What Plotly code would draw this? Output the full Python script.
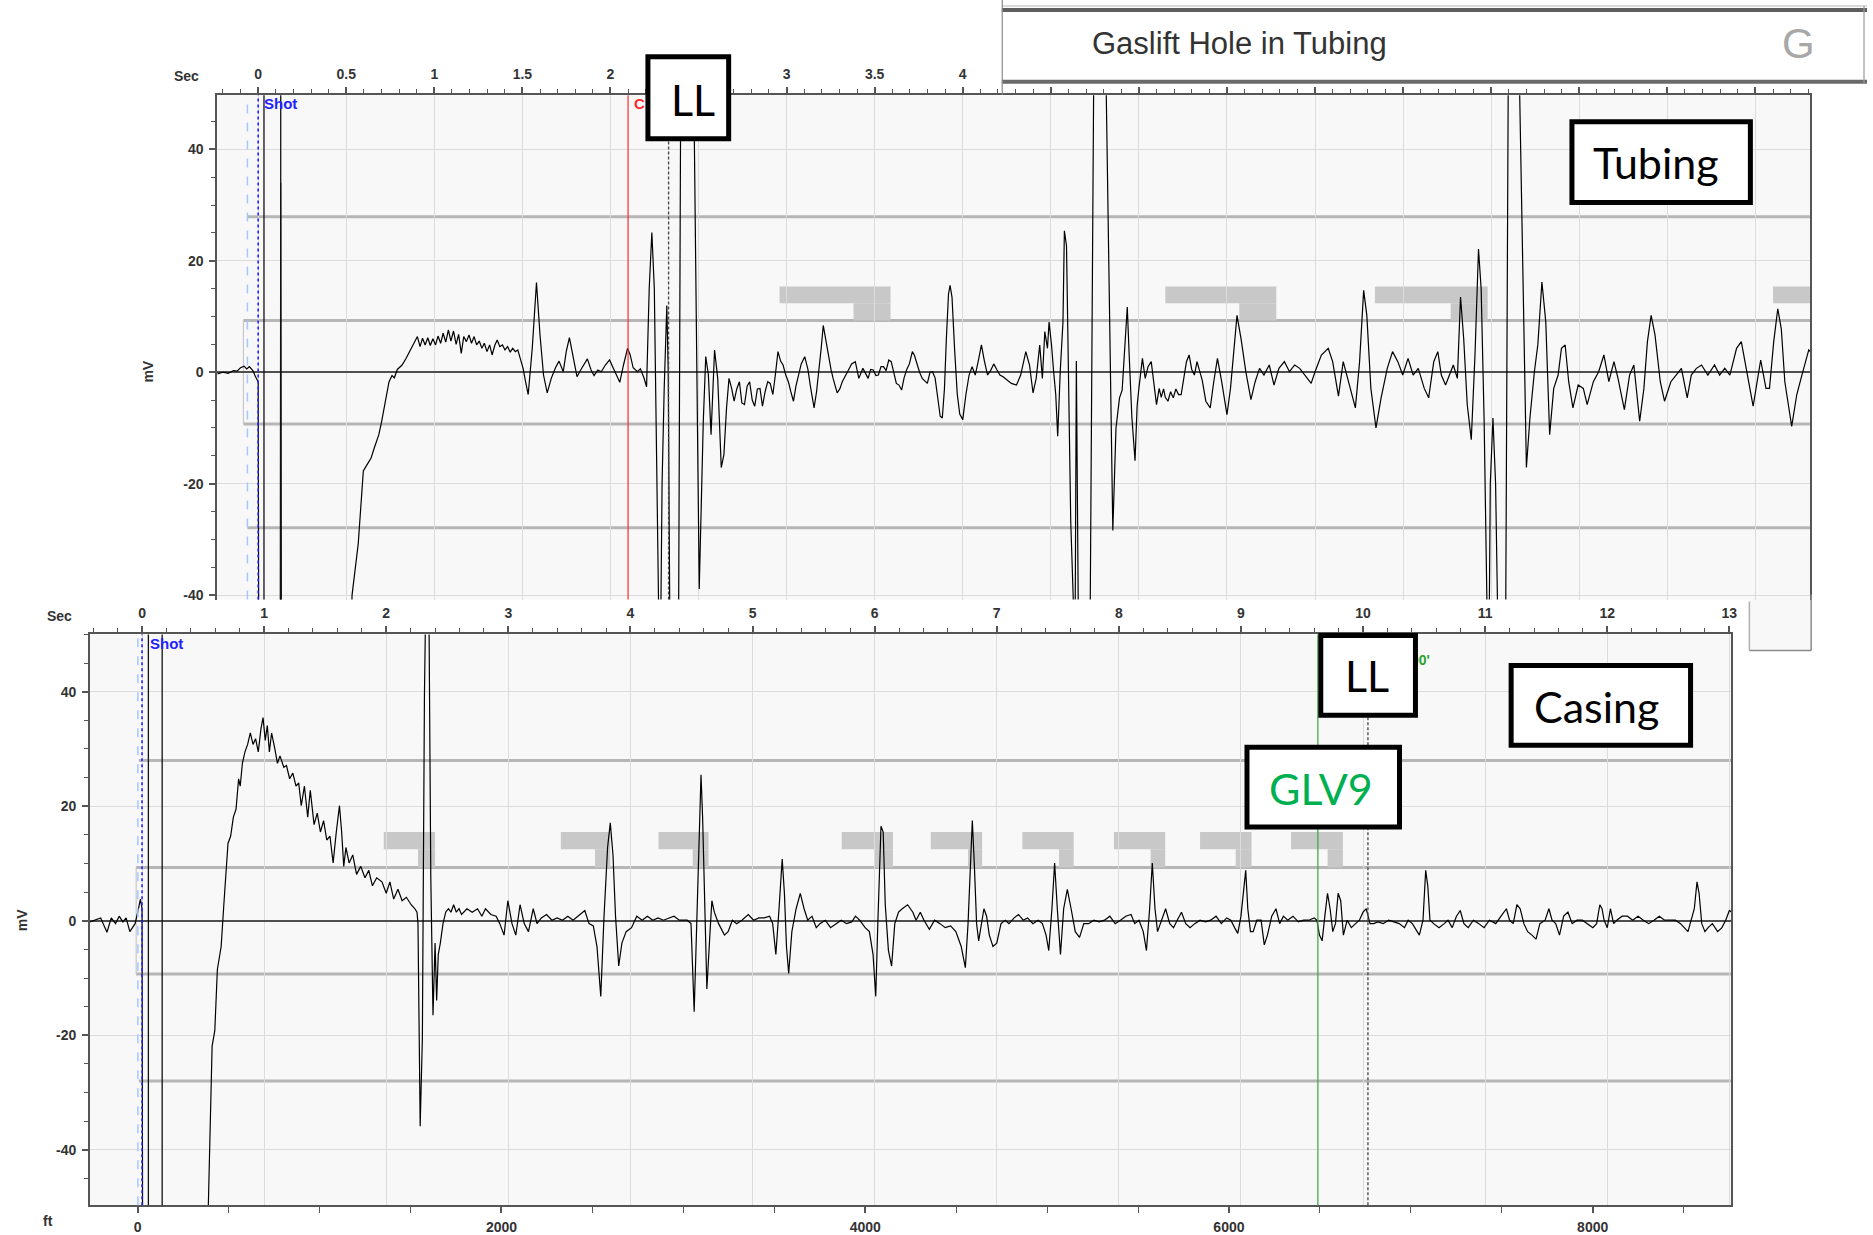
import plotly.graph_objects as go

W, H = 1873, 1235


def px(x):
    return x / W


def py(y):
    return 1 - y / H


# ---------------- upper panel: tubing shot (time in s, signal in mV) ----------------
tubing_trace = [
    (-0.232, -0.3), (-0.2, 0.0), (-0.17, -0.2), (-0.14, 0.3), (-0.12, 0.2), (-0.10, 0.8),
    (-0.08, 1.1), (-0.065, 0.6), (-0.05, 1.0), (-0.03, 0.3), (-0.015, -0.8), (0.0, -1.7),
    (0.004, -60), (0.125, -60), (0.128, 34), (0.130, 10), (0.132, -60),
    (0.52, -60), (0.533, -40), (0.568, -30.8), (0.585, -22), (0.597, -17.7), (0.62, -16.5),
    (0.641, -15.4), (0.66, -13.5), (0.685, -11.2), (0.70, -9), (0.714, -6.4), (0.73, -3.5),
    (0.743, -1.7), (0.76, -0.6), (0.773, -1.0), (0.79, 0.5), (0.817, 1.3), (0.84, 2.5),
    (0.86, 3.7), (0.875, 4.5), (0.89, 5.5),
    (0.904, 6.4), (0.919, 4.6), (0.933, 6.1), (0.948, 4.9), (0.963, 6.2), (0.977, 4.8),
    (0.992, 6.0), (1.007, 4.9), (1.021, 6.5), (1.036, 5.2), (1.05, 7.0), (1.065, 5.4),
    (1.08, 7.6), (1.094, 5.6), (1.109, 7.4), (1.124, 5.0), (1.138, 6.8), (1.153, 3.4),
    (1.167, 6.4), (1.182, 5.5), (1.197, 6.7), (1.211, 5.2), (1.226, 6.4), (1.24, 4.9),
    (1.255, 5.6), (1.27, 4.3), (1.284, 5.2), (1.299, 3.7), (1.314, 4.9), (1.328, 3.1),
    (1.343, 4.8), (1.357, 5.8), (1.372, 4.6), (1.387, 4.9), (1.401, 4.0), (1.416, 4.6),
    (1.431, 3.6), (1.445, 4.3), (1.46, 3.7), (1.474, 4.0), (1.489, 2.2), (1.504, 0.7),
    (1.518, -1.7), (1.533, -4.0), (1.556, 4.3), (1.58, 16.1), (1.60, 6.7), (1.62, -0.5),
    (1.641, -3.7), (1.664, -1.1), (1.688, 0.8), (1.708, 2.0), (1.732, 0.1), (1.749, 3.7),
    (1.767, 6.2), (1.787, 3.1), (1.81, -0.8), (1.831, 0.4), (1.849, 1.3), (1.869, 2.4),
    (1.89, 0.4), (1.907, -0.6), (1.928, 0.4), (1.948, 0.1), (1.971, 1.3), (1.995, 2.2),
    (2.015, 0.8), (2.036, -0.8), (2.053, -1.8), (2.074, 1.3), (2.097, 4.3), (2.112, 3.1),
    (2.129, 0.8), (2.153, 0.1), (2.17, 0.6), (2.19, -1.0), (2.205, -2.6), (2.22, 15.0),
    (2.235, 25.1), (2.249, 15.0), (2.264, -18.9), (2.281, -60), (2.293, -20), (2.305, -3),
    (2.32, 12), (2.328, 0), (2.34, -60), (2.385, -60), (2.40, 60), (2.47, 60),
    (2.504, -38.9), (2.518, -20), (2.527, -8.8), (2.541, 2.8), (2.556, -0.5), (2.571, -11.2),
    (2.591, 4.0), (2.609, -1.1), (2.629, -17.1), (2.644, -14.8), (2.659, -6.4), (2.673, -1.1),
    (2.688, -2.9), (2.702, -5.2), (2.717, -3.0), (2.732, -1.7), (2.746, -5.5), (2.761, -5.8),
    (2.776, -2.5), (2.79, -1.7), (2.805, -5.0), (2.819, -6.1), (2.834, -3.0), (2.849, -2.9),
    (2.863, -6.1), (2.878, -3.5), (2.893, -1.7), (2.907, -2.0), (2.922, -4.0), (2.936, -0.5),
    (2.951, 3.7), (2.966, 2.0), (2.98, 1.3), (2.995, -0.5), (3.01, -1.7), (3.024, -3.5),
    (3.039, -5.2), (3.053, -2.5), (3.068, -0.5), (3.083, 1.5), (3.103, 2.8), (3.121, 0.5),
    (3.135, -2.5), (3.156, -6.4), (3.17, -3.5), (3.185, 0.7), (3.197, 4.5), (3.208, 8.4),
    (3.223, 5.5), (3.238, 3.1), (3.252, 0.5), (3.264, -1.1), (3.287, -3.7), (3.302, -3.0),
    (3.316, -1.7), (3.346, 0.1), (3.369, 1.5), (3.39, 1.9), (3.41, -1.1), (3.433, 0.7),
    (3.451, -0.5), (3.463, -1.1), (3.477, 0.5), (3.492, 0.4), (3.507, -0.6), (3.521, -0.5),
    (3.536, 1.0), (3.55, 1.0), (3.565, 0.3), (3.58, 2.2), (3.594, 1.9), (3.609, 0.0),
    (3.623, -2.0), (3.638, -2.3), (3.653, -3.2), (3.667, -1.0), (3.682, 0.5), (3.697, 1.5),
    (3.714, 3.7), (3.726, 3.0), (3.741, 1.3), (3.755, 0.0), (3.77, -1.1), (3.784, -1.5),
    (3.799, -2.0), (3.814, 0.0), (3.828, 0.1), (3.843, -1.0), (3.858, -4.5), (3.872, -7.9),
    (3.884, -8.2), (3.896, -3.0), (3.907, 6.0), (3.919, 14.0), (3.928, 15.6), (3.939, 13.5),
    (3.954, 4.0), (3.969, -4.0), (3.983, -7.5), (4.0, -8.5), (4.018, -4.0), (4.036, -0.5),
    (4.053, 1.0), (4.071, -0.5), (4.088, 2.0), (4.106, 4.9), (4.123, 2.0), (4.141, -0.5),
    (4.158, 0.3), (4.176, 1.5), (4.193, 0.5), (4.211, -0.5), (4.229, -0.8), (4.246, -1.2),
    (4.276, -2.0), (4.305, -2.3), (4.329, -0.5), (4.358, 3.7), (4.379, 1.3), (4.399, -3.7),
    (4.417, -1.1), (4.437, 4.9), (4.452, -1.1), (4.466, 7.3), (4.481, 4.3), (4.49, 9.0),
    (4.504, 4.9), (4.516, 0.1), (4.528, -4.0), (4.539, -11.5), (4.554, 0.5), (4.569, 9.0),
    (4.577, 25.4), (4.589, 22.7), (4.601, -2.9), (4.613, -26.7), (4.627, -40.3), (4.636, -60),
    (4.645, 2.0), (4.66, -60), (4.72, -60), (4.745, 60), (4.81, 60), (4.852, -28.4),
    (4.87, -10), (4.89, -4.6), (4.905, -3.2), (4.92, 5), (4.934, 11.7), (4.945, 3),
    (4.96, -8), (4.978, -15.9), (4.99, -6), (5.0, -2.9), (5.02, 2.5), (5.036, -1.1),
    (5.052, 1.0), (5.07, 1.9), (5.085, -1.5), (5.10, -5.8), (5.115, -2.9), (5.127, -4.5),
    (5.14, -3.0), (5.15, -4.5), (5.165, -5.2), (5.18, -3.5), (5.195, -4.6), (5.21, -3.0),
    (5.225, -4.0), (5.24, -4.0), (5.27, 1.9), (5.285, 3.1), (5.3, 0.5), (5.315, -0.5),
    (5.33, 1.9), (5.345, 0.0), (5.36, -1.5), (5.38, -5.2), (5.405, -6.4), (5.425, -1.7),
    (5.446, 2.5), (5.47, -1.7), (5.50, -7.6), (5.52, -2.9), (5.54, 4.3), (5.557, 10.2),
    (5.58, 6.0), (5.607, 0.1), (5.636, -4.9), (5.66, -1.7), (5.685, 0.7), (5.71, -0.5),
    (5.74, 1.3), (5.767, -2.3), (5.795, 0.7), (5.826, 1.9), (5.855, 0.1), (5.884, 1.3),
    (5.913, 0.7), (5.943, -0.5), (5.978, -2.0), (6.0, 0.1), (6.036, 3.1), (6.075, 4.3),
    (6.10, 1.9), (6.133, -4.3), (6.16, 1.9), (6.2, -2.9), (6.229, -6.4), (6.253, 1.9),
    (6.276, 14.7), (6.294, 10.2), (6.317, -2.9), (6.346, -10.0), (6.375, -4.6), (6.41, 0.7),
    (6.44, 3.7), (6.47, 1.9), (6.498, -0.5), (6.528, 2.5), (6.557, -0.5), (6.586, 0.7),
    (6.62, -2.9), (6.645, -4.6), (6.674, 1.9), (6.697, 3.7), (6.717, -0.5), (6.741, -2.3),
    (6.762, -0.5), (6.785, 1.3), (6.808, -1.1), (6.826, 13.5), (6.844, 6.0), (6.864, -5.8),
    (6.887, -12.1), (6.908, 3.1), (6.928, 22.1), (6.943, 15.0), (6.96, -8.8), (6.975, -38.6),
    (6.985, -60), (6.995, -20), (7.01, -8.2), (7.025, -20), (7.045, -60), (7.08, -60),
    (7.098, 60), (7.156, 60), (7.20, -17.1), (7.22, -8.2), (7.245, 0.0), (7.265, 5.0),
    (7.288, 16.2), (7.31, 9.0), (7.332, -11.2), (7.355, -2.9), (7.38, -0.5), (7.399, 4.3),
    (7.42, 4.9), (7.44, -1.7), (7.464, -6.4), (7.494, -2.3), (7.523, -2.9), (7.545, -5.8),
    (7.58, -1.7), (7.61, 0.1), (7.64, 3.1), (7.668, -1.7), (7.697, 1.9), (7.72, -1.1),
    (7.756, -6.7), (7.786, -0.5), (7.81, 1.3), (7.843, -8.8), (7.867, -2.9), (7.887, 5.5),
    (7.908, 10.2), (7.93, 6.7), (7.96, -1.7), (7.984, -5.2), (8.02, -1.7), (8.05, -0.5),
    (8.08, 0.7), (8.113, -4.6), (8.136, -0.5), (8.165, 0.7), (8.194, 1.3), (8.23, -0.5),
    (8.268, 1.3), (8.297, -0.5), (8.326, 0.7), (8.355, -0.5), (8.393, 4.3), (8.42, 5.5),
    (8.45, 0.1), (8.487, -6.1), (8.51, -1.7), (8.53, 2.2), (8.56, -2.9), (8.58, -2.9),
    (8.604, 5.5), (8.627, 11.4), (8.647, 7.8), (8.667, -1.7), (8.706, -9.7), (8.735, -4.0),
    (8.764, -0.5), (8.803, 4.0), (8.832, 3.1),
]

# gas-lift valve windows on the tubing record: (start, step, end) in seconds
tubing_valve_marks = [(2.96, 3.38, 3.59), (5.15, 5.57, 5.78), (6.34, 6.77, 6.98), (8.60, 9.02, 9.23)]
tubing_bands = [9.3, 27.9]
tubing_events = {"pre": -0.061, "shot": 0.0, "m1": 0.033, "m2": 0.128, "collar": 2.10, "ll": 2.33}
# time labels on the upper scale ("" where the call-out / header sits over the scale)
tubing_tick_s = [0, 0.5, 1, 1.5, 2, 2.5, 3, 3.5, 4, 4.5, 5, 5.5, 6, 6.5, 7, 7.5, 8, 8.5]
tubing_tick_text = ["0", "0.5", "1", "1.5", "2", "", "3", "3.5", "4",
                    "", "", "", "", "", "", "", "", ""]

# ---------------- lower panel: casing shot ----------------
casing_trace = [
    (-0.426, -0.2), (-0.383, 0.1), (-0.339, 0.5), (-0.287, -2.0), (-0.252, 0.5), (-0.217, -0.5),
    (-0.187, 0.8), (-0.157, -0.2), (-0.13, 0.5), (-0.1, -1.9), (-0.057, -0.5), (-0.035, 1.5),
    (-0.013, 3.8), (0.0, 2.1), (0.006, -70), (0.53, -70), (0.543, -49.7), (0.574, -21.9),
    (0.596, -19.2), (0.617, -8.5), (0.648, -4.5), (0.67, 2.8), (0.687, 8.8), (0.704, 13.5),
    (0.726, 14.8), (0.748, 18.1), (0.77, 19.5), (0.791, 24.8), (0.804, 23.5), (0.822, 27.5),
    (0.843, 29.5), (0.865, 30.8), (0.887, 32.8), (0.909, 30.8), (0.93, 31.8), (0.952, 29.5),
    (0.974, 33.5), (0.991, 35.5), (1.009, 31.5), (1.026, 34.1), (1.043, 29.5), (1.061, 32.8),
    (1.087, 30.1), (1.109, 27.5), (1.13, 28.8), (1.161, 26.8), (1.183, 27.1), (1.209, 24.8),
    (1.235, 25.8), (1.261, 23.5), (1.283, 24.1), (1.304, 20.1), (1.33, 23.5), (1.357, 18.1),
    (1.378, 22.8), (1.409, 16.8), (1.435, 18.8), (1.461, 15.5), (1.487, 17.5), (1.513, 14.1),
    (1.539, 14.8), (1.565, 10.1), (1.591, 15.5), (1.617, 20.1), (1.635, 15.5), (1.652, 9.5),
    (1.67, 12.8), (1.696, 10.1), (1.726, 11.5), (1.757, 8.1), (1.791, 9.5), (1.826, 7.5),
    (1.857, 8.8), (1.887, 6.1), (1.922, 7.5), (1.965, 6.8), (2.0, 4.8), (2.03, 6.8),
    (2.061, 3.8), (2.096, 5.5), (2.13, 3.5), (2.165, 4.1), (2.204, 2.8), (2.235, 2.1),
    (2.252, 1.5), (2.26, -0.5), (2.278, -35.9), (2.296, -20.5), (2.313, 39.5), (2.326, 60),
    (2.348, 60), (2.365, 7.5), (2.383, -16.5), (2.4, -3.9), (2.413, -13.9), (2.426, -5.9),
    (2.443, -3.9), (2.465, -0.5), (2.487, 1.5), (2.509, 2.1), (2.53, 1.5), (2.552, 2.8),
    (2.574, 1.5), (2.596, 2.1), (2.617, 1.1), (2.661, 2.1), (2.704, 1.5), (2.748, 2.1),
    (2.783, 0.8), (2.813, 2.1), (2.857, 1.1), (2.9, 0.8), (2.93, -0.5), (2.965, -2.5),
    (2.996, 3.5), (3.03, -0.5), (3.061, -2.5), (3.096, 2.8), (3.13, -0.5), (3.165, -1.9),
    (3.204, 2.1), (3.235, -0.5), (3.27, 0.5), (3.313, 1.1), (3.357, 0.1), (3.4, 0.5),
    (3.443, 0.1), (3.487, 0.8), (3.53, 0.1), (3.578, 1.0), (3.626, 1.8), (3.661, -0.5),
    (3.696, -0.9), (3.726, -4.5), (3.757, -13.2), (3.783, 0.5), (3.813, 12.8), (3.835, 17.1),
    (3.857, 11.5), (3.878, 0.8), (3.904, -7.9), (3.93, -3.9), (3.965, -1.9), (4.009, -1.2),
    (4.052, 0.8), (4.096, 0.1), (4.139, 0.8), (4.183, 0.1), (4.226, 0.5), (4.27, 0.1),
    (4.313, 0.5), (4.357, 0.8), (4.4, 0.1), (4.465, 0.1), (4.496, -0.5), (4.522, -15.9),
    (4.543, -0.5), (4.565, 18.1), (4.578, 25.5), (4.591, 18.1), (4.609, 2.8), (4.626, -11.9),
    (4.652, -1.9), (4.667, 3.5), (4.687, 1.5), (4.722, -0.5), (4.77, -2.5), (4.8, -1.9),
    (4.835, 0.1), (4.87, -0.5), (4.913, 0.1), (4.965, 1.1), (5.009, 0.1), (5.052, 0.5),
    (5.096, 0.5), (5.14, 0.8), (5.165, -0.5), (5.191, -5.9), (5.217, 2.1), (5.243, 10.8),
    (5.261, 4.8), (5.278, -4.5), (5.296, -9.2), (5.322, -1.9), (5.357, 2.1), (5.391, 4.8),
    (5.422, 2.1), (5.452, 0.1), (5.487, 0.8), (5.522, -1.2), (5.552, -0.5), (5.596, 0.1),
    (5.639, -1.2), (5.683, -0.5), (5.726, 0.1), (5.77, -0.5), (5.813, -0.2), (5.843, 0.8),
    (5.878, 0.1), (5.922, -1.2), (5.957, -1.9), (5.987, -5.9), (6.009, -13.2), (6.026, -0.5),
    (6.052, 16.5), (6.07, 15.5), (6.087, 2.8), (6.113, -5.2), (6.139, -7.9), (6.165, -0.5),
    (6.196, 1.5), (6.226, 2.1), (6.27, 2.8), (6.313, 1.5), (6.339, 0.1), (6.374, 1.5),
    (6.404, 0.1), (6.448, -1.5), (6.491, 0.1), (6.535, -0.5), (6.578, -1.2), (6.622, -0.9),
    (6.665, -1.9), (6.709, -4.5), (6.743, -8.2), (6.765, -0.5), (6.782, 9.5), (6.8, 17.5),
    (6.817, 9.5), (6.835, -0.5), (6.852, -3.5), (6.874, -0.5), (6.895, 2.1), (6.917, 0.8),
    (6.939, -2.5), (6.969, -4.5), (7.0, -3.9), (7.035, -0.5), (7.07, 0.1), (7.1, -0.5),
    (7.143, 0.5), (7.178, 1.1), (7.217, 0.1), (7.252, 0.5), (7.296, -0.5), (7.339, 0.1),
    (7.374, -0.5), (7.404, -2.5), (7.426, -5.2), (7.452, 2.1), (7.474, 10.1), (7.496, 2.1),
    (7.522, -5.9), (7.548, 2.1), (7.578, 5.5), (7.609, 2.1), (7.643, -1.9), (7.678, -2.9),
    (7.713, -0.5), (7.752, -0.5), (7.796, 0.1), (7.839, -0.2), (7.883, 0.1), (7.926, 0.8),
    (7.97, -0.5), (8.013, 0.1), (8.057, 0.8), (8.1, 1.1), (8.13, -0.5), (8.165, 0.1),
    (8.2, -1.9), (8.226, -5.2), (8.252, 2.1), (8.274, 10.1), (8.296, 2.1), (8.317, -1.9),
    (8.348, 0.1), (8.383, 2.1), (8.417, -0.5), (8.448, -1.2), (8.478, 0.1), (8.513, 1.5),
    (8.548, -0.5), (8.583, -1.2), (8.622, -0.5), (8.665, 0.1), (8.709, -0.2), (8.752, 0.1),
    (8.796, 0.8), (8.839, -0.5), (8.883, 0.5), (8.917, 0.1), (8.948, -1.2), (8.974, -2.2),
    (9.0, 0.8), (9.022, 4.8), (9.039, 8.8), (9.056, 2.1), (9.078, -1.9), (9.1, -1.9),
    (9.13, 0.1), (9.165, 0.1), (9.191, -4.2), (9.217, -2.5), (9.252, 0.8), (9.287, 2.1),
    (9.317, -0.5), (9.348, 0.8), (9.383, 0.1), (9.426, 0.8), (9.47, -0.2), (9.513, 0.1),
    (9.557, 0.1), (9.6, 0.5), (9.622, 0.1), (9.643, -2.5), (9.665, -3.5), (9.687, 0.8),
    (9.709, 4.8), (9.73, 2.1), (9.752, -1.9), (9.774, -0.5), (9.796, 4.8), (9.817, 3.5),
    (9.839, -2.5), (9.87, 0.1), (9.904, -1.2), (9.939, -0.5), (9.97, 0.1), (10.0, 1.5),
    (10.026, 2.1), (10.057, -0.5), (10.087, -0.5), (10.122, -0.2), (10.165, -0.5), (10.209, 0.1),
    (10.252, -0.2), (10.296, -0.5), (10.339, -1.2), (10.37, 0.1), (10.404, -0.5), (10.435, -1.5),
    (10.461, -2.5), (10.491, 0.1), (10.513, 8.8), (10.53, 6.1), (10.548, 0.1), (10.578, -0.5),
    (10.622, -1.2), (10.665, -0.5), (10.696, 0.1), (10.73, -1.2), (10.765, 0.8), (10.796, 1.8),
    (10.826, -0.5), (10.861, -1.2), (10.904, 0.1), (10.948, -0.5), (10.991, -1.2), (11.035, 0.1),
    (11.087, -0.5), (11.13, 0.8), (11.174, 2.1), (11.2, 0.1), (11.23, -0.5), (11.26, 2.8),
    (11.287, 2.1), (11.317, -0.5), (11.348, -1.9), (11.383, -2.5), (11.417, -3.2), (11.448, -0.5),
    (11.491, 0.1), (11.522, 2.1), (11.548, 0.1), (11.578, -0.5), (11.609, -2.5), (11.643, 0.8),
    (11.678, 1.5), (11.713, -0.5), (11.752, 0.1), (11.796, 0.1), (11.839, -0.5), (11.882, -1.2),
    (11.913, -0.5), (11.939, 2.8), (11.957, 2.1), (11.974, 0.1), (12.0, -1.2), (12.026, 2.1),
    (12.052, -0.5), (12.078, 0.1), (12.122, 0.8), (12.165, 0.8), (12.209, 0.1), (12.252, 0.8),
    (12.296, 0.1), (12.339, -0.5), (12.383, 0.1), (12.426, 0.8), (12.47, 0.1), (12.513, 0.1),
    (12.557, 0.1), (12.6, -0.5), (12.635, -1.2), (12.661, -1.9), (12.687, 0.1), (12.713, 2.1),
    (12.735, 6.8), (12.752, 4.8), (12.774, -0.5), (12.8, -1.9), (12.826, -1.2), (12.861, -0.5),
    (12.904, -1.9), (12.939, -1.2), (12.97, 0.1), (13.0, 1.8), (13.02, 1.5),
]

casing_valve_marks = [
    (1.98, 2.26, 2.40), (3.43, 3.71, 3.835), (4.23, 4.51, 4.64), (5.73, 6.0, 6.15),
    (6.46, 6.765, 6.88), (7.21, 7.51, 7.63), (7.96, 8.26, 8.38), (8.665, 8.957, 9.087),
    (9.41, 9.71, 9.835),
]
casing_bands = [9.3, 28.0]
casing_events = {"pre": -0.034, "shot": 0.0, "m1": 0.052, "m2": 0.165, "glv9": 9.63, "ll": 10.04}
depth_ticks_ft = [0, 2000, 4000, 6000, 8000]
glv9_depth_label = "6490'"

mv_ticks = [-40, -20, 0, 20, 40]
mv_tick_text = ["-40", "-20", "0", "20", "40"]

tub_t, tub_mv = zip(*tubing_trace)
cas_t, cas_mv = zip(*casing_trace)

TICK_FONT = dict(family="Liberation Sans, Arial, sans-serif", size=14, color="#333333", weight="bold")
AXIS = "#555555"
GRID = "#dcdcdc"
BG = "#f8f8f8"

fig = go.Figure()
fig.add_trace(go.Scatter(x=tub_t, y=tub_mv, mode="lines", xaxis="x", yaxis="y",
                         line=dict(color="black", width=1.2), hoverinfo="skip", showlegend=False))
fig.add_trace(go.Scatter(x=cas_t, y=cas_mv, mode="lines", xaxis="x2", yaxis="y2",
                         line=dict(color="black", width=1.2), hoverinfo="skip", showlegend=False))
# depth scale companion (no visible marks)
fig.add_trace(go.Scatter(x=depth_ticks_ft, y=[None] * len(depth_ticks_ft), mode="lines",
                         xaxis="x3", yaxis="y2", hoverinfo="skip", showlegend=False))
# depth tag of the GLV9 marker (partly covered by the LL call-out)
glv_tag_t = (1434.5 - 142.5) / 122.5
fig.add_trace(go.Scatter(x=[glv_tag_t], y=[45.2], mode="text", text=[glv9_depth_label],
                         textposition="middle left", xaxis="x2", yaxis="y2",
                         textfont=dict(family="Liberation Sans, Arial", size=14, color="#2ca02c",
                                       weight="bold"),
                         hoverinfo="skip", showlegend=False))

shapes = []


def hline(xref, yref, x0, x1, y, color, width):
    return dict(type="line", xref=xref, yref=yref, x0=x0, x1=x1, y0=y, y1=y,
                line=dict(color=color, width=width), layer="below")


def vline(xref, yref, x, color, width, dash="solid"):
    return dict(type="line", xref=xref, yref=yref + " domain", x0=x, x1=x, y0=0, y1=1,
                line=dict(color=color, width=width, dash=dash), layer="above")


def valve_marks(xref, yref, marks, top, mid, base):
    out = []
    for a, s, b in marks:
        out.append(dict(type="rect", xref=xref, yref=yref, x0=a, x1=b, y0=mid, y1=top,
                        fillcolor="#c8c8c8", line=dict(width=0), layer="below"))
        out.append(dict(type="rect", xref=xref, yref=yref, x0=s, x1=b, y0=base, y1=mid,
                        fillcolor="#c8c8c8", line=dict(width=0), layer="below"))
    return out


# upper panel threshold bands
inner, outer = tubing_bands
for lvl in (inner, -inner):
    shapes.append(hline("x", "y", -0.084, 8.9, lvl, "#b6b6b6", 3))
for lvl in (outer, -outer):
    shapes.append(hline("x", "y", -0.061, 8.9, lvl, "#b6b6b6", 3))
shapes.append(dict(type="line", xref="x", yref="y", x0=-0.084, x1=-0.084, y0=-inner, y1=inner,
                   line=dict(color="#c0c0c0", width=1), layer="below"))
shapes += valve_marks("x", "y", tubing_valve_marks, 15.4, 12.4, inner)

# lower panel threshold bands
inner2, outer2 = casing_bands
for lvl in (inner2, -inner2):
    shapes.append(hline("x2", "y2", -0.048, 13.2, lvl, "#b6b6b6", 3))
for lvl in (outer2, -outer2):
    shapes.append(hline("x2", "y2", -0.026, 13.2, lvl, "#b6b6b6", 3))
shapes.append(dict(type="line", xref="x2", yref="y2", x0=-0.048, x1=-0.048, y0=-inner2, y1=inner2,
                   line=dict(color="#c0c0c0", width=1), layer="below"))
shapes += valve_marks("x2", "y2", casing_valve_marks, 15.5, 12.5, inner2)

# event markers
ev = tubing_events
shapes += [
    vline("x", "y", ev["pre"], "#a9c6ff", 1.5, "dash"),
    vline("x", "y", ev["shot"], "#2222ff", 1.6, "dot"),
    vline("x", "y", ev["m1"], "#111111", 1.3),
    vline("x", "y", ev["m2"], "#111111", 1.3),
    vline("x", "y", ev["collar"], "#ff2a2a", 1.2),
    vline("x", "y", ev["ll"], "#444444", 1.3, "3px,2px"),
]
ev = casing_events
shapes += [
    vline("x2", "y2", ev["pre"], "#a9c6ff", 1.5, "dash"),
    vline("x2", "y2", ev["shot"], "#2222ff", 1.6, "dot"),
    vline("x2", "y2", ev["m1"], "#111111", 1.3),
    vline("x2", "y2", ev["m2"], "#111111", 1.3),
    vline("x2", "y2", ev["glv9"], "#3aa63a", 1.2),
    vline("x2", "y2", ev["ll"], "#444444", 1.3, "3px,2px"),
]

# lower-right corner of the upper window
shapes.append(dict(type="rect", xref="paper", yref="paper", x0=px(1755), x1=px(1817), y0=py(652),
                   y1=py(599), fillcolor=BG, line=dict(width=0), layer="below"))
for (x0, y0, x1, y1, c) in [(1817, 596, 1817, 652, "#8a8a8a"), (1755, 652, 1817, 652, "#8a8a8a"),
                            (1755, 603, 1755, 652, "#b0b0b0")]:
    shapes.append(dict(type="line", xref="paper", yref="paper", x0=px(x0), x1=px(x1),
                       y0=py(y0), y1=py(y1), line=dict(color=c, width=1.5), layer="above"))

# header strip
shapes.append(dict(type="rect", xref="paper", yref="paper", x0=px(1005), x1=1, y0=py(86), y1=1,
                   fillcolor="white", line=dict(width=0), layer="above"))
for (x0, y0, x1, y1, c, w) in [(1005, 10, 1873, 10, "#5e5e5e", 4), (1005, 6, 1873, 6, "#b5b5b5", 1),
                               (1005, 82, 1873, 82, "#6a6a6a", 4),
                               (1005.5, 0, 1005.5, 95, "#8c8c8c", 1.2),
                               (1870, 6, 1870, 84, "#9a9a9a", 1.2)]:
    shapes.append(dict(type="line", xref="paper", yref="paper", x0=px(x0), x1=px(x1),
                       y0=py(y0), y1=py(y1), line=dict(color=c, width=w), layer="above"))

# call-out boxes (left, top, right, bottom in page pixels)
callouts = [
    ("LL", (650, 57, 731, 139), 671, 100, "black"),
    ("Tubing", (1577, 122, 1756, 203), 1596, 163, "black"),
    ("LL", (1325, 637, 1420, 717), 1347, 677, "black"),
    ("Casing", (1516, 667, 1696, 747), 1537, 708, "black"),
    ("GLV9", (1251, 749, 1404, 829), 1271, 790, "#00b050"),
]
annotations = []
for text, (l, t, r, b), tx, ty, col in callouts:
    shapes.append(dict(type="rect", xref="paper", yref="paper", x0=px(l), x1=px(r), y0=py(b), y1=py(t),
                       fillcolor="white", line=dict(color="black", width=5), layer="above"))
    annotations.append(dict(xref="paper", yref="paper", x=px(tx), y=py(ty), xanchor="left",
                            yanchor="middle", showarrow=False, text=text,
                            font=dict(family="Lato, Open Sans, sans-serif", size=43, color=col)))

LABEL = dict(family="Liberation Sans, Arial, sans-serif", size=14, color="#333333", weight="bold")
for text, x, y, ang in [("Sec", 187.5, 76.5, 0), ("mV", 149, 373, -90), ("Sec", 60, 617.5, 0),
                        ("mV", 21.5, 922, -90), ("ft", 48, 1224, 0)]:
    annotations.append(dict(xref="paper", yref="paper", x=px(x), y=py(y), xanchor="center",
                            yanchor="middle", showarrow=False, text=text, textangle=ang, font=LABEL))

MARK_FONT = dict(family="Liberation Sans, Arial, sans-serif", size=15, weight="bold")
annotations += [
    dict(xref="paper", yref="paper", x=px(263), y=py(104), xanchor="left", yanchor="middle",
         showarrow=False, text="Shot", font=dict(MARK_FONT, color="#2222ff")),
    dict(xref="paper", yref="paper", x=px(634), y=py(104), xanchor="left", yanchor="middle",
         showarrow=False, text="C", font=dict(MARK_FONT, color="#ff2a2a")),
    dict(xref="paper", yref="paper", x=px(148), y=py(645), xanchor="left", yanchor="middle",
         showarrow=False, text="Shot", font=dict(MARK_FONT, color="#2222ff")),
    dict(xref="paper", yref="paper", x=px(1094), y=py(44), xanchor="left", yanchor="middle",
         showarrow=False, text="Gaslift Hole in Tubing",
         font=dict(family="Liberation Sans, Arial, sans-serif", size=31, color="#333333")),
    dict(xref="paper", yref="paper", x=px(1804), y=py(44), xanchor="center", yanchor="middle",
         showarrow=False, text="G",
         font=dict(family="Liberation Sans, Arial, sans-serif", size=42, color="#a8a8a8")),
]


def time_axis(domain, rng, anchor, dtick, minor, tickvals=None, ticktext=None):
    ax = dict(domain=domain, range=rng, anchor=anchor, side="top", showline=True, linecolor=AXIS,
              linewidth=2, ticks="outside", ticklen=6, tickwidth=1.5, tickcolor=AXIS, dtick=dtick,
              tick0=0, minor=dict(dtick=minor, ticks="outside", ticklen=4, tickcolor=AXIS,
                                  tickwidth=1.2, showgrid=False),
              showgrid=True, gridcolor=GRID, gridwidth=1, zeroline=False, tickfont=TICK_FONT,
              ticklabelstandoff=3, fixedrange=True)
    if tickvals is not None:
        ax.update(tickmode="array", tickvals=tickvals, ticktext=ticktext)
    return ax


def mv_axis(domain, rng, anchor):
    return dict(domain=domain, range=rng, anchor=anchor, showline=True, mirror=True, linecolor=AXIS,
                linewidth=2, ticks="outside", ticklen=6, tickwidth=1.5, tickcolor=AXIS,
                tickmode="array", tickvals=mv_ticks, ticktext=mv_tick_text,
                minor=dict(dtick=5, tick0=0, ticks="outside", ticklen=4, tickcolor=AXIS,
                           tickwidth=1.2, showgrid=False),
                showgrid=True, gridcolor=GRID, gridwidth=1, zeroline=True, zerolinecolor="#4f4f4f",
                zerolinewidth=2, tickfont=TICK_FONT, ticklabelstandoff=3, fixedrange=True)


fig.update_layout(
    width=W, height=H, margin=dict(l=0, r=0, t=0, b=0), paper_bgcolor="white", plot_bgcolor=BG,
    showlegend=False,
    xaxis=time_axis([px(218), px(1816)], [-0.232, 8.811], "y", 0.5, 0.1,
                    tubing_tick_s, tubing_tick_text),
    yaxis=mv_axis([py(601), py(95.6)], [-40.8, 49.7], "x"),
    xaxis2=time_axis([px(90.3), px(1737)], [-0.426, 13.017], "y2", 1, 0.2),
    yaxis2=mv_axis([py(1208.3), py(636)], [-49.7, 50], "x2"),
    xaxis3=dict(overlaying="x2", anchor="y2", side="bottom", range=[-262.5, 8763], showline=True,
                linecolor=AXIS, linewidth=2, ticks="outside", ticklen=6, tickwidth=1.5,
                tickcolor=AXIS, tickmode="array", tickvals=depth_ticks_ft,
                minor=dict(dtick=500, tick0=0, ticks="outside", ticklen=6, tickcolor=AXIS,
                           tickwidth=1.2, showgrid=False),
                showgrid=False, zeroline=False, tickfont=TICK_FONT, ticklabelstandoff=2,
                fixedrange=True),
    shapes=shapes,
    annotations=annotations,
)

fig.write_html("out.html")
